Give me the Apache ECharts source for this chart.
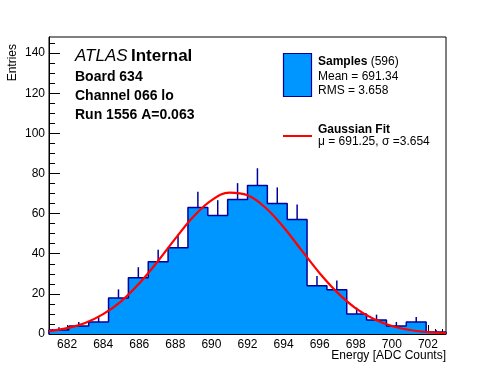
<!DOCTYPE html>
<html>
<head>
<meta charset="utf-8">
<script src="https://cdn.jsdelivr.net/npm/echarts@6/dist/echarts.min.js"></script>
<style>
html,body{margin:0;padding:0;background:#fff;}
#chart{width:496px;height:372px;}
</style>
</head>
<body>
<div id="chart"></div>
<script>
// ---- data ----
const binEdges = [681, 682.1, 683.2, 684.3, 685.4, 686.5, 687.6, 688.7, 689.8, 690.9, 692.0,
                  693.1, 694.2, 695.3, 696.4, 697.5, 698.6, 699.7, 700.8, 701.9, 703.0];
const counts = [2, 4, 6, 18, 28, 36, 43, 63, 59, 67, 74, 65, 57, 24, 22, 10, 7, 4, 6, 1];
const fitX = [681, 682, 683, 684, 685, 686, 687, 688, 689, 690, 691, 692, 693, 694, 695, 696, 697, 698, 699, 700, 701, 702, 703];
const fitY = [1.4, 2.9, 5.5, 9.9, 16.3, 25.2, 35.9, 47.5, 58.4, 66.6, 70.4, 69.1, 62.9, 53.2, 41.7, 30.3, 20.5, 12.8, 7.5, 4.0, 2.0, 0.9, 0.4];
const xTickLabels = [682, 684, 686, 688, 690, 692, 694, 696, 698, 700, 702];
const yTickLabels = [0, 20, 40, 60, 80, 100, 120, 140];

// ---- derived tables ----
const outline = [[binEdges[0], 0]];
counts.forEach((n, i) => { outline.push([binEdges[i], n]); outline.push([binEdges[i + 1], n]); });
outline.push([binEdges[binEdges.length - 1], 0]);
const errTable = counts.map((n, i) => [(binEdges[i] + binEdges[i + 1]) / 2, n, Math.sqrt(n)]);
const fitData = fitX.map((x, i) => [x, fitY[i]]);

const xMinor = [];
for (let v = 681.2; v < 703; v += 0.4) { const r = Math.round(v * 10) / 10; if (xTickLabels.indexOf(r) < 0) xMinor.push(r); }
const yMinor = [];
for (let v = 5; v < 148; v += 5) { if (v % 20 !== 0) yMinor.push(v); }

const FONT = '"Liberation Sans", Arial, Helvetica, sans-serif';
const FILL = '#0096ff';
const EDGE = '#00009a';

const chart = echarts.init(document.getElementById('chart'), null, {renderer: 'canvas'});
const option = {
  animation: false,
  backgroundColor: '#fff',
  grid: {left: 49, right: 50, top: 37, bottom: 38, show: true, borderColor: '#000', borderWidth: 1, backgroundColor: 'transparent'},
  xAxis: [{
    type: 'value', min: 681, max: 703,
    axisLine: {show: true, onZero: false, lineStyle: {color: '#000', width: 1}},
    axisTick: {show: true, inside: true, length: 9, customValues: xTickLabels, lineStyle: {color: '#000'}},
    axisLabel: {show: true, customValues: xTickLabels, fontSize: 12, color: '#000', fontFamily: FONT, margin: 5},
    splitLine: {show: false}
  }, {
    type: 'value', min: 681, max: 703, position: 'bottom',
    axisLine: {show: false},
    axisTick: {show: true, inside: true, length: 5, customValues: xMinor, lineStyle: {color: '#000'}},
    axisLabel: {show: false}, splitLine: {show: false}
  }],
  yAxis: [{
    type: 'value', min: 0, max: 148,
    axisLine: {show: true, onZero: false, lineStyle: {color: '#000', width: 1}},
    axisTick: {show: true, inside: true, length: 11, customValues: yTickLabels, lineStyle: {color: '#000'}},
    axisLabel: {show: true, customValues: yTickLabels, fontSize: 12, color: '#000', fontFamily: FONT, margin: 4},
    splitLine: {show: false}
  }, {
    type: 'value', min: 0, max: 148, position: 'left',
    axisLine: {show: false},
    axisTick: {show: true, inside: true, length: 6, customValues: yMinor, lineStyle: {color: '#000'}},
    axisLabel: {show: false}, splitLine: {show: false}
  }],
  series: [
    {
      type: 'line', name: 'Samples', data: outline, z: 3, showSymbol: false, silent: true,
      lineStyle: {color: EDGE, width: 1.5},
      areaStyle: {color: FILL, opacity: 1}
    },
    {
      type: 'custom', name: 'errors', data: errTable, z: 4,
      renderItem: function (params, api) {
        const a = api.coord([api.value(0), api.value(1)]);
        const b = api.coord([api.value(0), api.value(1) + api.value(2)]);
        return {type: 'line', shape: {x1: a[0], y1: a[1], x2: b[0], y2: b[1]},
                style: {stroke: EDGE, lineWidth: 1.5}};
      }
    },
    {
      type: 'line', name: 'Gaussian Fit', data: fitData, z: 5, smooth: 0.4, showSymbol: false,
      lineStyle: {color: '#ff0000', width: 2.2}
    }
  ],
  graphic: [
    {type: 'text', style: {text: 'Entries', x: 0, y: 0, font: '12px ' + FONT, fill: '#000', align: 'right', verticalAlign: 'middle'},
     x: 13, y: 44, rotation: Math.PI / 2},
    {type: 'text', style: {text: 'Energy [ADC Counts]', x: 446, y: 356, font: '12px ' + FONT, fill: '#000', align: 'right', verticalAlign: 'middle'}},
    {type: 'text', style: {text: '{a|ATLAS} {b|Internal}', x: 75, y: 56, verticalAlign: 'middle',
      rich: {a: {fontStyle: 'italic', fontSize: 17, fontFamily: FONT, fill: '#000'}, b: {fontWeight: 'bold', fontSize: 17, fontFamily: FONT, fill: '#000'}}}},
    {type: 'text', style: {text: 'Board 634', x: 75, y: 77, font: 'bold 14px ' + FONT, fill: '#000', verticalAlign: 'middle'}},
    {type: 'text', style: {text: 'Channel 066 lo', x: 75, y: 96, font: 'bold 14px ' + FONT, fill: '#000', verticalAlign: 'middle'}},
    {type: 'text', style: {text: 'Run 1556 A=0.063', x: 75, y: 115, font: 'bold 14px ' + FONT, fill: '#000', verticalAlign: 'middle'}},
    {type: 'rect', shape: {x: 283.5, y: 53.5, width: 28, height: 43}, style: {fill: FILL, stroke: EDGE, lineWidth: 1.2}},
    {type: 'text', style: {text: '{b|Samples} {r|(596)}', x: 318, y: 62, verticalAlign: 'middle',
      rich: {b: {fontWeight: 'bold', fontSize: 12, fontFamily: FONT, fill: '#000'}, r: {fontSize: 12, fontFamily: FONT, fill: '#000'}}}},
    {type: 'text', style: {text: 'Mean = 691.34', x: 318, y: 77, font: '12px ' + FONT, fill: '#000', verticalAlign: 'middle'}},
    {type: 'text', style: {text: 'RMS = 3.658', x: 318, y: 91, font: '12px ' + FONT, fill: '#000', verticalAlign: 'middle'}},
    {type: 'line', shape: {x1: 283, y1: 136, x2: 312, y2: 136}, style: {stroke: '#ff0000', lineWidth: 2}},
    {type: 'text', style: {text: 'Gaussian Fit', x: 318, y: 129.5, font: 'bold 12px ' + FONT, fill: '#000', verticalAlign: 'middle'}},
    {type: 'text', style: {text: 'μ = 691.25, σ =3.654', x: 318, y: 142, font: '12px ' + FONT, fill: '#000', verticalAlign: 'middle'}}
  ]
};
chart.setOption(option);
</script>
</body>
</html>
